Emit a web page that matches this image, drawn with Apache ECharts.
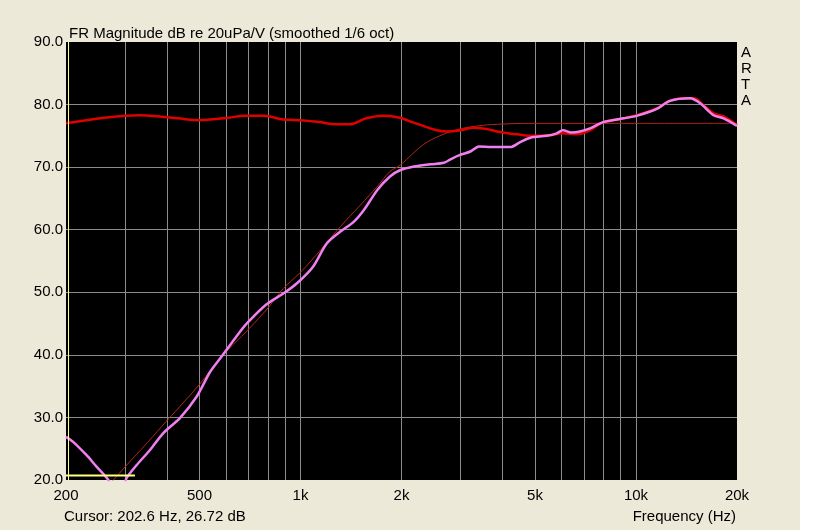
<!DOCTYPE html>
<html>
<head>
<meta charset="utf-8">
<script src="https://cdn.jsdelivr.net/npm/echarts@6/dist/echarts.min.js"></script>
<style>
html, body { margin: 0; padding: 0; background: #fff; }
#chart { width: 834px; height: 530px; }
</style>
</head>
<body>
<div id="chart"></div>
<script>
// frequency (Hz), level (dB)
var redCurve = [
    [200, 77.0], [230, 77.5], [260, 77.9], [300, 78.2], [330, 78.3], [380, 78.1],
    [430, 77.8], [500, 77.5], [590, 77.8], [690, 78.2], [780, 78.2], [890, 77.6],
    [1000, 77.5], [1140, 77.2], [1280, 76.85], [1400, 76.85], [1570, 77.8], [1770, 78.2],
    [1980, 77.9], [2100, 77.4], [2320, 76.6], [2550, 75.9], [2730, 75.7], [3000, 75.9],
    [3270, 76.3], [3580, 76.1], [3930, 75.6], [4410, 75.25], [4940, 75.0], [5540, 75.1],
    [6060, 75.4], [6650, 75.25], [7290, 75.9], [7990, 77.2], [8960, 77.7], [10040, 78.3],
    [11530, 79.4], [12620, 80.6], [13840, 81.0], [14830, 81.0], [15890, 79.9], [17020, 78.6],
    [18240, 78.1], [20000, 76.7]
];
var pinkCurve = [
    [200, 26.9], [210, 26.1], [230, 24.0], [247, 22.1], [265, 20.3], [280, 18.6],
    [295, 18.6], [303, 20.3], [325, 22.4], [356, 24.8], [390, 27.5], [437, 29.9],
    [490, 33.3], [538, 37.3], [585, 39.9], [667, 44.0], [691, 45.0], [789, 48.0],
    [889, 49.8], [974, 51.4], [1090, 54.1], [1197, 57.8], [1315, 59.7], [1443, 61.3],
    [1547, 63.2], [1697, 66.4], [1848, 68.5], [1979, 69.5], [2179, 70.1], [2434, 70.45],
    [2677, 70.7], [2810, 71.3], [2989, 71.95], [3210, 72.5], [3405, 73.3], [3700, 73.2],
    [4215, 73.2], [4519, 74.0], [4845, 74.7], [5414, 75.0], [5804, 75.4], [6056, 75.9],
    [6420, 75.55], [6803, 75.7], [7293, 76.2], [7990, 77.2], [9167, 77.8], [10040, 78.2],
    [11530, 79.3], [12620, 80.6], [14500, 81.0], [15530, 80.2], [17020, 78.3], [18240, 77.8],
    [20000, 76.6]
];
var targetCurve = [
    [265, 19.0], [277, 20.0], [300, 22.1], [350, 26.0], [400, 29.5], [450, 32.5],
    [500, 35.3], [589, 40.0], [700, 44.1], [800, 47.5], [889, 50.6], [1000, 53.2],
    [1150, 56.8], [1315, 60.5], [1500, 63.8], [1700, 67.0], [1848, 69.3], [1979, 70.3],
    [2323, 73.6], [2600, 75.0], [2930, 76.0], [3300, 76.5], [3700, 76.8], [5000, 77.0],
    [10000, 77.0], [20000, 77.0]
];
var cursorFreq = 202.6;
var cursorBar = [[200, 20.7], [321, 20.7]];

var freqLabels = [200, 500, 1000, 2000, 5000, 10000, 20000];
var freqGrid = [300, 400, 500, 600, 700, 800, 900, 1000,
    2000, 3000, 4000, 5000, 6000, 7000, 8000, 9000, 10000];

var chart = echarts.init(document.getElementById('chart'));

var fmtFreq = function (v) {
    return v >= 1000 ? (v / 1000) + 'k' : String(v);
};

chart.setOption({
    backgroundColor: '#fff',
    animation: false,
    title: {
        text: 'FR Magnitude dB re 20uPa/V (smoothed 1/6 oct)',
        left: 64,
        top: 21,
        textStyle: { fontFamily: 'Liberation Sans', fontSize: 15, fontWeight: 'normal', color: '#000' }
    },
    graphic: [
        {
            type: 'rect', z: -10, silent: true,
            shape: { x: 0, y: 0, width: 800, height: 530 },
            style: { fill: '#ECE9D8' }
        },
        {
            type: 'text', left: 64, top: 509,
            style: { text: 'Cursor: 202.6 Hz, 26.72 dB', fill: '#000', font: '15px "Liberation Sans"' }
        },
        {
            type: 'text', right: 98, top: 509,
            style: { text: 'Frequency (Hz)', fill: '#000', font: '15px "Liberation Sans"' }
        },
        {
            type: 'text', left: 741, top: 45,
            style: { text: 'A\nR\nT\nA', fill: '#000', font: '15px "Liberation Sans"', lineHeight: 16, align: 'center' }
        }
    ],
    grid: {
        left: 66, right: 97, top: 42, bottom: 50,
        show: true, backgroundColor: '#000', borderWidth: 0
    },
    xAxis: {
        type: 'log',
        logBase: 10,
        min: 200,
        max: 20000,
        axisLine: { show: false },
        axisTick: { show: false, customValues: freqGrid },
        axisLabel: {
            customValues: freqLabels,
            formatter: fmtFreq,
            color: '#000',
            fontFamily: 'Liberation Sans',
            fontSize: 15,
            margin: 8
        },
        splitLine: { show: true, lineStyle: { color: '#8C8C8C', width: 1 } }
    },
    yAxis: {
        type: 'value',
        min: 20,
        max: 90,
        interval: 10,
        axisLine: { show: false },
        axisTick: { show: false },
        axisLabel: {
            formatter: function (v) { return v.toFixed(1); },
            color: '#000',
            fontFamily: 'Liberation Sans',
            fontSize: 15,
            margin: 3
        },
        splitLine: { show: true, showMinLine: false, showMaxLine: false, lineStyle: { color: '#8C8C8C', width: 1 } }
    },
    series: [
        {
            name: 'target', type: 'line', data: targetCurve,
            smooth: 0.4, showSymbol: false, clip: true,
            lineStyle: { color: '#B02818', width: 1 }
        },
        {
            name: 'red', type: 'line', data: redCurve,
            smooth: 0.4, showSymbol: false, clip: true,
            lineStyle: { color: '#E00000', width: 2.5 }
        },
        {
            name: 'pink', type: 'line', data: pinkCurve,
            smooth: 0.3, showSymbol: false, clip: true,
            lineStyle: { color: '#F080F0', width: 2.5 }
        },
        {
            name: 'cursor', type: 'line', data: cursorBar,
            showSymbol: false, clip: true,
            lineStyle: { color: '#FFFF80', width: 2 },
            markLine: {
                silent: true, symbol: 'none', label: { show: false },
                lineStyle: { color: '#FFFF80', width: 1, type: 'solid' },
                data: [{ xAxis: cursorFreq }]
            }
        }
    ]
});
</script>
</body>
</html>
